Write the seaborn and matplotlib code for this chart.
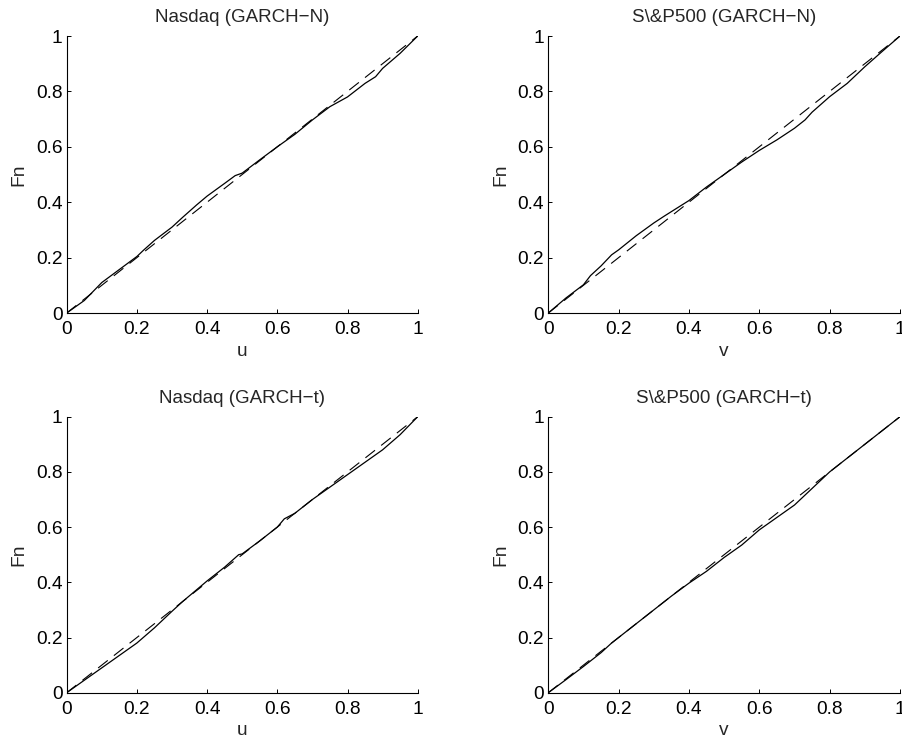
import numpy as np
import pandas as pd
import matplotlib
matplotlib.use("Agg")
import matplotlib.pyplot as plt
import seaborn as sns

# ---- data ----
titles = ["Nasdaq (GARCH\u2212N)", "S\\&P500 (GARCH\u2212N)",
          "Nasdaq (GARCH\u2212t)", "S\\&P500 (GARCH\u2212t)"]
xlabels = ["u", "v", "u", "v"]
ylabel = "Fn"
ticks = [0, 0.2, 0.4, 0.6, 0.8, 1]
tick_labels = ["0", "0.2", "0.4", "0.6", "0.8", "1"]

nasdaq_n_x = [0, 0.05, 0.1, 0.15, 0.2, 0.22, 0.25, 0.3, 0.33, 0.37, 0.4, 0.45, 0.48, 0.5,
              0.55, 0.6, 0.65, 0.7, 0.75, 0.8, 0.85, 0.88, 0.9, 0.95, 1.0]
nasdaq_n_y = [0, 0.045, 0.11, 0.157, 0.204, 0.228, 0.262, 0.31, 0.345, 0.39, 0.422, 0.468, 0.496, 0.505,
              0.553, 0.6, 0.645, 0.697, 0.745, 0.78, 0.829, 0.853, 0.883, 0.9375, 1.0]

sp_n_x = [0, 0.05, 0.1, 0.12, 0.15, 0.18, 0.2, 0.25, 0.3, 0.33, 0.4, 0.45, 0.5, 0.55,
          0.6, 0.65, 0.7, 0.73, 0.75, 0.8, 0.85, 0.9, 0.95, 1.0]
sp_n_y = [0, 0.054, 0.102, 0.135, 0.17, 0.21, 0.228, 0.279, 0.325, 0.35, 0.406, 0.455, 0.5, 0.545,
          0.587, 0.625, 0.667, 0.697, 0.725, 0.781, 0.829, 0.889, 0.945, 1.0]

nasdaq_t_x = [0, 0.05, 0.1, 0.15, 0.2, 0.25, 0.3, 0.33, 0.4, 0.45, 0.49, 0.5, 0.55,
              0.6, 0.62, 0.65, 0.7, 0.75, 0.8, 0.85, 0.9, 0.95, 1.0]
nasdaq_t_y = [0, 0.045, 0.09, 0.135, 0.18, 0.235, 0.295, 0.33, 0.405, 0.455, 0.5, 0.503, 0.55,
              0.6, 0.63, 0.65, 0.7, 0.745, 0.79, 0.835, 0.88, 0.935, 1.0]

sp_t_x = [0, 0.05, 0.1, 0.12, 0.15, 0.18, 0.2, 0.3, 0.35, 0.4, 0.45, 0.5, 0.55,
          0.6, 0.65, 0.7, 0.75, 0.8, 0.85, 0.9, 1.0]
sp_t_y = [0, 0.047, 0.095, 0.115, 0.145, 0.18, 0.2, 0.3, 0.35, 0.397, 0.44, 0.49, 0.535,
          0.59, 0.635, 0.68, 0.74, 0.8, 0.85, 0.9, 1.0]

diag_x = [0, 1]
diag_y = [0, 1]

series = [(nasdaq_n_x, nasdaq_n_y), (sp_n_x, sp_n_y),
          (nasdaq_t_x, nasdaq_t_y), (sp_t_x, sp_t_y)]

# ---- style ----
sns.set_style("white")
plt.rcParams['font.family'] = ['Liberation Sans', 'DejaVu Sans']
FS = 13.8

fig = plt.figure(figsize=(9.02, 7.43), dpi=100)
W, H = 902, 743
positions = [
    (66.7, 36, 417.7, 313),
    (548.3, 36, 900, 313),
    (66.7, 416.7, 417.7, 692.7),
    (548.3, 416.7, 900, 692.7),
]

for i, (x0, y1, x1, y0) in enumerate(positions):
    ax = fig.add_axes([x0 / W, 1 - y0 / H, (x1 - x0) / W, (y0 - y1) / H])
    xs, ys = series[i]
    df = pd.DataFrame({"x": xs, "y": ys})
    dd = pd.DataFrame({"x": diag_x, "y": diag_y})
    sns.lineplot(data=df, x="x", y="y", ax=ax, color="black", lw=0.9,
                 estimator=None, sort=False)
    sns.lineplot(data=dd, x="x", y="y", ax=ax, color="black", lw=0.8,
                 estimator=None, sort=False, dashes=False, linestyle=(0, (11, 7)))
    ax.set_xlim(0, 1)
    ax.set_ylim(0, 1)
    ax.set_xticks(ticks)
    ax.set_xticklabels(tick_labels)
    ax.set_yticks(ticks)
    ax.set_yticklabels(tick_labels)
    ax.tick_params(direction="in", length=3, width=0.7, colors="black",
                   labelsize=FS, bottom=True, left=True)
    ax.tick_params(axis="x", pad=6)
    ax.tick_params(axis="y", pad=3)
    for s in ["top", "right"]:
        ax.spines[s].set_visible(False)
    for s in ["left", "bottom"]:
        ax.spines[s].set_color("black")
        ax.spines[s].set_linewidth(0.8)
    ax.set_title(titles[i], fontsize=FS - 0.3, pad=10)
    ax.set_xlabel(xlabels[i], fontsize=FS, labelpad=3)
    ax.set_ylabel(ylabel, fontsize=FS, labelpad=6)
    ax.patch.set_alpha(0)

fig.savefig("out.png", dpi=100, facecolor="white")
